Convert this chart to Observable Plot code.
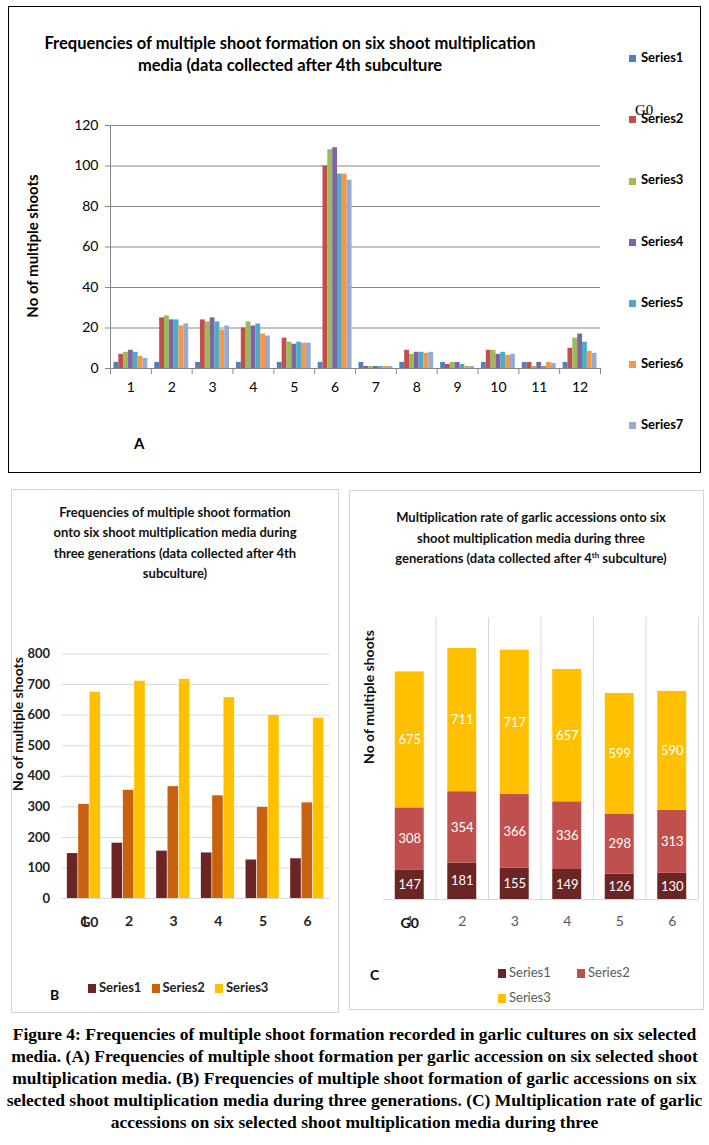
<!DOCTYPE html>
<html><head><meta charset="utf-8">
<script src="https://cdn.jsdelivr.net/npm/d3@7"></script>
<script src="https://cdn.jsdelivr.net/npm/@observablehq/plot@0.6"></script>
<style>
html,body{margin:0;padding:0;background:#fff;}
body{width:709px;height:1145px;position:relative;overflow:hidden;font-family:Lato,"Open Sans",sans-serif;color:#000;}
.box{position:absolute;box-sizing:border-box;}
.t{position:absolute;white-space:nowrap;}
.rot{position:absolute;white-space:nowrap;transform:translate(-50%,-50%) rotate(-90deg);font-weight:bold;}
.sw{display:inline-block;vertical-align:middle;}
.plot{position:absolute;}
</style></head><body>
<script>
// ---------- Panel A data ----------
const groupsA = ["1","2","3","4","5","6","7","8","9","10","11","12"];
const seriesA = ["Series1","Series2","Series3","Series4","Series5","Series6","Series7"];
const colorsA = ["#4F81BD","#C0504D","#9BBB59","#8064A2","#4BACC6","#F79646","#95ABD6"];
const a1 = [3,3,3,3,3,3,3,3,3,3,3,3];
const a2 = [7,25,24,20,15,100,1,9,2,9,3,10];
const a3 = [8,26,23,23,13,108,1,7,3,9,1,15];
const a4 = [9,24,25,21,12,109,1,8,3,7,3,17];
const a5 = [8,24,23,22,13,96,1,8,2,8,1,13];
const a6 = [6,21,19,17,12.5,96,1,7.5,1,6.5,3,8.5];
const a7 = [5,22,21,16,12.5,93,1,8,1,7,2.5,7.5];
const yTicksA = [0,20,40,60,80,100,120];

// ---------- Panels B and C data ----------
const groupsB = ["1","2","3","4","5","6"];
const seriesB = ["Series1","Series2","Series3"];
const colorsB = ["#6B2525","#C8620F","#FFC000"];
const colorsC = ["#6B2525","#C0504D","#FFC000"];
const b1 = [147,181,155,149,126,130];
const b2 = [308,354,366,336,298,313];
const b3 = [675,711,717,657,599,590];
const yTicksB = [0,100,200,300,400,500,600,700,800];

const FONT = "Lato, 'Open Sans', sans-serif";

function groupedRows(groups, names, vals, span) {
  const w = span / names.length, rows = [];
  groups.forEach((g, i) => names.forEach((s, j) => {
    const c = i + 1;
    rows.push({g: c, s, v: vals[j][i], x1: c - span/2 + j*w, x2: c - span/2 + (j+1)*w});
  }));
  return rows;
}
function el(html, cls, style) {
  const d = document.createElement("div");
  d.className = cls; d.innerHTML = html; Object.assign(d.style, style);
  document.body.appendChild(d); return d;
}
function place(svg, left, top) {
  const d = document.createElement("div");
  d.className = "plot"; d.style.left = left + "px"; d.style.top = top + "px";
  d.appendChild(svg); document.body.appendChild(d);
}

// ---------- Panel A ----------
el("", "box", {left:"8px", top:"6px", width:"693px", height:"467px", border:"1.5px solid #000"});
el("Frequencies of multiple shoot formation on six shoot multiplication<br>media (data collected after 4th subculture",
   "t", {left:"10px", width:"560px", top:"32px", textAlign:"center", fontWeight:"bold", fontSize:"16.5px", lineHeight:"22px", whiteSpace:"normal"});
el("No of multiple shoots", "rot", {left:"32px", top:"246px", fontSize:"15px"});
el("A", "t", {left:"134px", top:"434px", fontWeight:"bold", fontSize:"15px"});
seriesA.forEach((s, j) => {
  el(`<span class="sw" style="width:7px;height:7px;background:${colorsA[j]};margin-right:5px"></span>${s}`,
     "t", {left:"629px", top:(57 + j*61.2 - 9) + "px", fontWeight:"bold", fontSize:"13px", lineHeight:"18px"});
});
el("G0", "t", {left:"635px", top:"101px", fontFamily:"'Liberation Serif', serif", fontSize:"15px", lineHeight:"18px"});

const rowsA = groupedRows(groupsA, seriesA, [a1,a2,a3,a4,a5,a6,a7], 0.83);
const idxA = groupsA.map((d, i) => i + 1);
const edgesA = d3.range(0.5, groupsA.length + 1, 1);
place(Plot.plot({
  width: 600, height: 300, marginLeft: 100, marginRight: 10, marginTop: 15, marginBottom: 42,
  style: {fontFamily: FONT, fontSize: "14px", color: "#000", background: "transparent"},
  x: {domain: [0.5, groupsA.length + 0.5], axis: null},
  y: {domain: [0, 120], axis: null},
  color: {domain: seriesA, range: colorsA},
  marks: [
    Plot.ruleY(yTicksA.filter(t => t > 0), {stroke: "#878787"}),
    Plot.rect(rowsA, {x1: "x1", x2: "x2", y1: 0, y2: "v", fill: "s"}),
    Plot.ruleY([0], {stroke: "#878787"}),
    Plot.ruleX([0.5], {y1: 0, y2: 120, stroke: "#878787"}),
    Plot.axisY({ticks: yTicksA, tickSize: 5, tickPadding: 7, stroke: "#878787", fill: "#000", label: null}),
    Plot.axisX({ticks: edgesA, tickSize: 6, tickFormat: () => "", stroke: "#878787", label: null}),
    Plot.axisX({ticks: idxA, tickSize: 0, tickPadding: 14, tickFormat: i => groupsA[i - 1], fill: "#000", label: null})
  ]
}), 10, 110);

// ---------- Panel B ----------
el("", "box", {left:"11px", top:"489px", width:"328px", height:"524px", border:"1px solid #d4d4d4"});
el("Frequencies of multiple shoot formation<br>onto six shoot multiplication media during<br>three generations (data collected after 4th<br>subculture)",
   "t", {left:"25px", width:"300px", top:"502px", textAlign:"center", fontWeight:"bold", fontSize:"13px", lineHeight:"20.3px", color:"#111"});
el("No of multiple shoots", "rot", {left:"17px", top:"724px", fontSize:"14px", color:"#111"});
el("B", "t", {left:"50px", top:"986px", fontWeight:"bold", fontSize:"14px"});
seriesB.forEach((s, j) => {
  el(`<span class="sw" style="width:8px;height:9px;background:${colorsB[j]};margin-right:3px"></span>${s}`,
     "t", {left:(88 + j*63.5) + "px", top:"978px", fontWeight:"bold", fontSize:"13px", lineHeight:"18px", color:"#222"});
});

const rowsB = groupedRows(groupsB, seriesB, [b1,b2,b3], 0.76);
const idxB = groupsB.map((d, i) => i + 1);
place(Plot.plot({
  width: 328, height: 300, marginLeft: 50.5, marginRight: 9.5, marginTop: 23.5, marginBottom: 32,
  style: {fontFamily: FONT, fontSize: "13px", color: "#222", background: "transparent"},
  x: {domain: [0.5, groupsB.length + 0.5], axis: null},
  y: {domain: [0, 800], axis: null},
  color: {domain: seriesB, range: colorsB},
  marks: [
    Plot.ruleY(yTicksB, {stroke: "#d9d9d9"}),
    Plot.rect(rowsB, {x1: "x1", x2: "x2", y1: 0, y2: "v", fill: "s", insetRight: 0.7}),
    Plot.axisY({ticks: yTicksB, tickSize: 0, tickPadding: 12, fontWeight: "bold", fill: "#222", label: null}),
    Plot.axisX({ticks: idxB, tickSize: 0, tickPadding: 18, tickFormat: i => groupsB[i - 1], fontWeight: "bold", fontSize: 14, fill: "#222", label: null}),
    Plot.text([1], {x: d => d, y: () => 0, dy: 24, dx: 5, text: () => "G0", fontWeight: "bold", fontSize: 14, fill: "#222"})
  ]
}), 11, 630);

// ---------- Panel C ----------
el("", "box", {left:"349px", top:"490px", width:"355px", height:"520px", border:"1px solid #d4d4d4"});
el("Multiplication rate of garlic accessions onto six<br>shoot multiplication media during three<br>generations (data collected after 4<sup style='font-size:8px;line-height:0'>th</sup> subculture)",
   "t", {left:"381px", width:"300px", top:"507px", textAlign:"center", fontWeight:"bold", fontSize:"13px", lineHeight:"20.5px", color:"#111"});
el("No of multiple shoots", "rot", {left:"368px", top:"697px", fontSize:"14px", color:"#111"});
el("C", "t", {left:"370px", top:"966px", fontWeight:"bold", fontSize:"14px"});
seriesB.forEach((s, j) => {
  el(`<span class="sw" style="width:8px;height:9px;background:${colorsC[j]};margin-right:3px"></span>${s}`,
     "t", {left:(498 + (j % 2)*79) + "px", top:(963 + Math.floor(j/2)*25) + "px", fontSize:"13px", lineHeight:"18px", color:"#595959"});
});

const rowsC = [];
groupsB.forEach((g, i) => seriesB.forEach((s, j) => rowsC.push({g: i + 1, s, v: [b1,b2,b3][j][i]})));
place(Plot.plot({
  width: 353, height: 330, marginLeft: 33, marginRight: 5, marginTop: 17, marginBottom: 31,
  style: {fontFamily: FONT, fontSize: "14px", color: "#595959", background: "transparent"},
  x: {domain: [0.5, groupsB.length + 0.5], axis: null},
  y: {domain: [0, 1400], axis: null},
  color: {domain: seriesB, range: colorsC},
  marks: [
    Plot.ruleX(d3.range(1.5, groupsB.length + 1, 1), {y1: 0, y2: 1400, stroke: "#d9d9d9"}),
    Plot.ruleY([0], {stroke: "#d9d9d9"}),
    Plot.rectY(rowsC, {x1: d => d.g - 0.276, x2: d => d.g + 0.276, y: "v", fill: "s"}),
    Plot.text(rowsC, Plot.stackY({x: "g", y: "v", text: "v", fill: "white", fontSize: 13})),
    Plot.axisX({ticks: idxB, tickSize: 0, tickPadding: 17, tickFormat: i => groupsB[i - 1], fill: "#595959", label: null}),
    Plot.text([1], {x: d => d, y: () => 0, dy: 24, text: () => "G0", fontWeight: "bold", fill: "#111"})
  ]
}), 350, 600);

// ---------- Caption ----------
el("Figure 4: Frequencies of multiple shoot formation recorded in garlic cultures on six selected<br>" +
   "media. (A) Frequencies of multiple shoot formation per garlic accession on six selected shoot<br>" +
   "multiplication media. (B) Frequencies of multiple shoot formation of garlic accessions on six<br>" +
   "selected shoot multiplication media during three generations. (C) Multiplication rate of garlic<br>" +
   "accessions on six selected shoot multiplication media during three",
   "t", {left:"0px", width:"709px", top:"1023px", textAlign:"center", fontFamily:"'Liberation Serif', 'Times New Roman', serif", fontWeight:"bold", fontSize:"17.5px", lineHeight:"22px"});
</script>
</body></html>
